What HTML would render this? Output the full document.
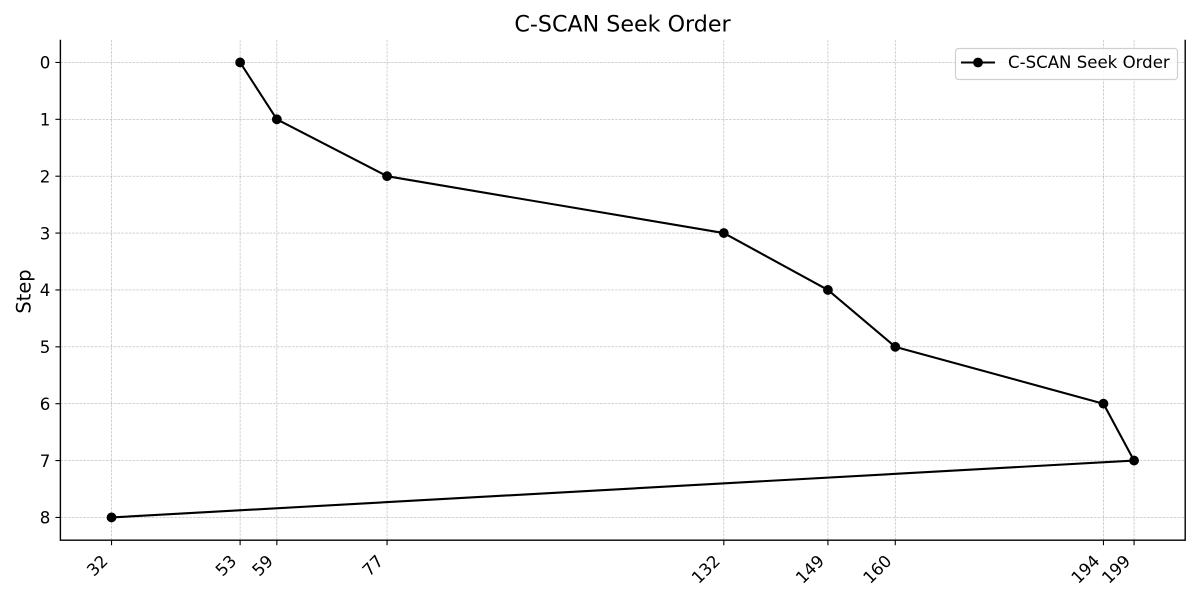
<!DOCTYPE html>
<html lang="en">
<head>
<meta charset="utf-8">
<title>C-SCAN Seek Order</title>
<style>
html,body{margin:0;padding:0;background:#fff;width:1200px;height:600px;overflow:hidden}
svg{display:block}
text{font-family:"DejaVu Sans","Liberation Sans",sans-serif;fill:#000}
</style>
</head>
<body>
<svg id="chart" width="1200" height="600" viewBox="0 0 1200 600" xmlns="http://www.w3.org/2000/svg">
<rect width="1200" height="600" fill="#fff"/>
<g id="grid"></g>
<g id="series"></g>
<g id="axes"></g>
<text x="622.5" y="31.6" text-anchor="middle" font-size="22.2">C-SCAN Seek Order</text>
<text transform="translate(30.5 291.5) rotate(-90)" text-anchor="middle" font-size="19.4">Step</text>
<g>
<rect x="955.5" y="48.5" width="222" height="31" rx="3" fill="#fff" fill-opacity="0.8" stroke="#d0d0d0" stroke-width="1.2"/>
<line x1="961" y1="62.5" x2="995" y2="62.5" stroke="#000" stroke-width="2.08"/>
<circle cx="978" cy="62.5" r="4.9" fill="#000"/>
<text x="1008" y="68.2" font-size="16.6">C-SCAN Seek Order</text>
</g>
</svg>
<script>
const tracks = [53, 59, 77, 132, 149, 160, 194, 199, 32];
const steps = [0, 1, 2, 3, 4, 5, 6, 7, 8];
const xTickLabels = [32, 53, 59, 77, 132, 149, 160, 194, 199];
const yTickLabels = [0, 1, 2, 3, 4, 5, 6, 7, 8];

const NS = 'http://www.w3.org/2000/svg';
const left = 60.4, right = 1185.2, top_ = 39.7, bottom = 540.2;
const xMin = Math.min(...tracks), xMax = Math.max(...tracks);
const yMin = Math.min(...steps), yMax = Math.max(...steps);
const xPad = (xMax - xMin) * 0.05, yPad = (yMax - yMin) * 0.05;
function xScale(v) {
  return left + (v - (xMin - xPad)) / (xMax - xMin + 2 * xPad) * (right - left);
}
function yScale(v) {
  return top_ + (v - (yMin - yPad)) / (yMax - yMin + 2 * yPad) * (bottom - top_);
}
function make(tag, attrs, parent) {
  const el = document.createElementNS(NS, tag);
  for (const k in attrs) el.setAttribute(k, attrs[k]);
  parent.appendChild(el);
  return el;
}
const grid = document.getElementById('grid');
const axes = document.getElementById('axes');
const series = document.getElementById('series');

xTickLabels.forEach(function (t) {
  const x = xScale(t);
  const g = make('line', {x1: x, x2: x, y1: top_, y2: bottom, stroke: '#b8b8b8', 'stroke-width': 0.65, 'stroke-dasharray': '2.6 1.2'}, grid);
  
  
  const tick = make('line', {x1: x, x2: x, y1: bottom, y2: bottom + 5, stroke: '#000', 'stroke-width': 1.1}, axes);
  
  
  const len = String(t).length * 10.6;
  const half = (len + 15) * 0.7071 / 2;
  const cx = x - half - 1.6, cy = 552.6 + half;
  const label = make('text', {x: cx, y: cy + 6, 'text-anchor': 'middle', 'font-size': 16.67, transform: 'rotate(-45 ' + cx + ' ' + cy + ')'}, axes);
  label.textContent = t;
  
  
});

yTickLabels.forEach(function (t) {
  const y = yScale(t);
  const g = make('line', {x1: left, x2: right, y1: y, y2: y, stroke: '#b8b8b8', 'stroke-width': 0.65, 'stroke-dasharray': '2.6 1.2'}, grid);
  
  
  const tick = make('line', {x1: left - 5, x2: left, y1: y, y2: y, stroke: '#000', 'stroke-width': 1.1}, axes);
  
  
  const label = make('text', {x: left - 10, y: y + 6.2, 'text-anchor': 'end', 'font-size': 16.67}, axes);
  label.textContent = t;
  
  
});

const line = make('polyline', {
  points: tracks.map(function (v, i) { return xScale(v) + ',' + yScale(steps[i]); }).join(' '),
  fill: 'none', stroke: '#000', 'stroke-width': 2.08, 'stroke-linejoin': 'round'
}, series);



tracks.forEach(function (v, i) {
  const p = make('circle', {cx: xScale(v), cy: yScale(steps[i]), r: 4.9, fill: '#000'}, series);
  
  
});

const spineLeft = make('line', {x1: left, x2: left, y1: top_, y2: bottom + 0.7, stroke: '#000', 'stroke-width': 1.4}, axes);


const spineRight = make('line', {x1: right, x2: right, y1: top_, y2: bottom + 0.7, stroke: '#000', 'stroke-width': 1.4}, axes);


const spineBottom = make('line', {x1: left, x2: right, y1: bottom, y2: bottom, stroke: '#000', 'stroke-width': 1.4}, axes);


</script>
</body>
</html>
